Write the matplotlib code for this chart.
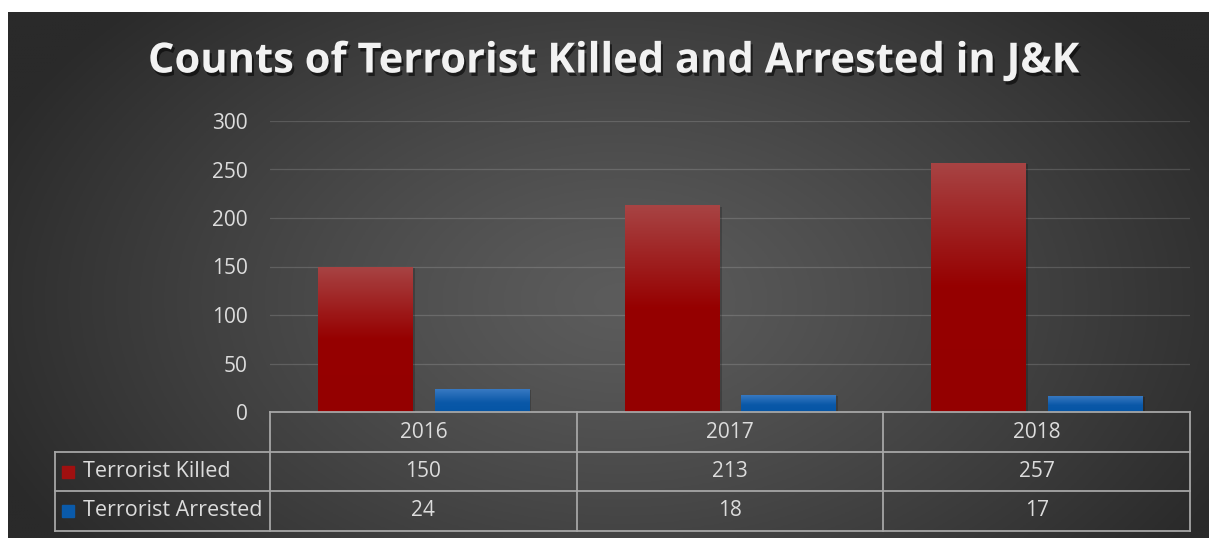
import numpy as np
import matplotlib
matplotlib.use("Agg")
import matplotlib.pyplot as plt
import matplotlib.patheffects as pe
from matplotlib.colors import LinearSegmentedColormap

years = ["2016", "2017", "2018"]
killed = [150, 213, 257]
arrested = [24, 18, 17]
series_names = ["Terrorist Killed", "Terrorist Arrested"]
y_ticks = [0, 50, 100, 150, 200, 250, 300]

W, H = 1209, 538
TEXT = "#dcdcdc"
GRID_LINE = "#a6a6a6"

plt.rcParams["font.family"] = ["Open Sans", "DejaVu Sans"]

fig = plt.figure(figsize=(W / 100, H / 100), dpi=100)
fig.patch.set_facecolor("white")

# dark panel with a soft radial glow in the middle
bg = fig.add_axes([8 / W, 0, 1 - 8 / W, (H - 12) / H], zorder=-10)
gx, gy = np.meshgrid(np.linspace(8, W, 400), np.linspace(12, H, 200))
r = np.sqrt(((gx - 620) / 680) ** 2 + ((gy - 300) / 430) ** 2)
shade = 0x5c - (0x5c - 0x2a) * np.clip(r, 0, 1) ** 1.2
shade = shade / 255.0
bg.imshow(np.dstack([shade, shade, shade]), extent=(8, W, H, 12), aspect="auto")
bg.set_axis_off()

# plot area
px_left, px_right, px_zero, px_top = 270, 1190, 412, 121
ax = fig.add_axes([px_left / W, (H - px_zero) / H,
                   (px_right - px_left) / W, (px_zero - px_top) / H])
ax.patch.set_alpha(0)

x = np.arange(len(years))
width = 0.307
off = 0.19

red_map = LinearSegmentedColormap.from_list(
    "red", [(0.0, "#a84444"), (0.5, "#960000"), (1.0, "#940000")])
blue_map = LinearSegmentedColormap.from_list(
    "blue", [(0.0, "#3c7cc4"), (0.6, "#0a58a8"), (1.0, "#0555a5")])

shadow = [pe.SimplePatchShadow(offset=(2, -1), shadow_rgbFace="black", alpha=0.2), pe.Normal()]
bars_k = ax.bar(x - off, killed, width, color="#960000", zorder=3, path_effects=shadow)
bars_a = ax.bar(x + off, arrested, width, color="#0555a5", zorder=3, path_effects=shadow)

# vertical gradient inside each bar, lighter at the top
grad = np.linspace(0, 1, 256).reshape(-1, 1)
for bars, cmap in ((bars_k, red_map), (bars_a, blue_map)):
    for b in bars:
        x0, h = b.get_x(), b.get_height()
        im = ax.imshow(grad, cmap=cmap, extent=(x0, x0 + b.get_width(), 0, h),
                       aspect="auto", zorder=4, origin="upper")
        im.set_clip_path(b)

ax.set_xlim(-0.5, len(years) - 0.5)
ax.set_ylim(0, 300)
ax.set_yticks(y_ticks)
ax.set_xticks([])
ax.tick_params(axis="y", length=0, pad=16, labelsize=15, labelcolor=TEXT)
ax.yaxis.grid(True, color="#ffffff", alpha=0.15, lw=0.9)
ax.set_axisbelow(True)
for s in ax.spines.values():
    s.set_visible(False)

# data table under the plot, drawn in pixel coordinates
tb = fig.add_axes([0, 0, 1, 1], zorder=5)
tb.set_xlim(0, W)
tb.set_ylim(H, 0)
tb.set_axis_off()
tb.patch.set_alpha(0)

row_y = [412, 452, 491, 531]
label_left = 55
col_w = (px_right - px_left) / len(years)
col_x = [px_left + i * col_w for i in range(len(years) + 1)]
lk = dict(color=GRID_LINE, lw=1.3)

# header row (years) only spans the data columns
tb.plot([px_left, px_right], [row_y[0], row_y[0]], **lk)
for yy in row_y[1:]:
    tb.plot([label_left, px_right], [yy, yy], **lk)
for xx in col_x:
    tb.plot([xx, xx], [row_y[0], row_y[-1]], **lk)
tb.plot([label_left, label_left], [row_y[1], row_y[-1]], **lk)

for i, yr in enumerate(years):
    cx = (col_x[i] + col_x[i + 1]) / 2
    tb.text(cx, (row_y[0] + row_y[1]) / 2, yr, ha="center", va="center",
            color=TEXT, fontsize=15)
    tb.text(cx, (row_y[1] + row_y[2]) / 2, str(killed[i]), ha="center",
            va="center", color=TEXT, fontsize=15)
    tb.text(cx, (row_y[2] + row_y[3]) / 2, str(arrested[i]), ha="center",
            va="center", color=TEXT, fontsize=15)

for j, (name, col) in enumerate(zip(series_names, ["#a01010", "#0a5aaa"])):
    cy = (row_y[j + 1] + row_y[j + 2]) / 2
    tb.add_patch(plt.Rectangle((62, cy - 6), 12, 12, color=col))
    tb.text(83, cy, name, ha="left", va="center", color=TEXT, fontsize=15.5)

fig.text(614 / W, 1 - 62 / H, "Counts of Terrorist Killed and Arrested in J&K",
         ha="center", va="center", color="#f2f2f2", fontsize=30,
         fontweight="bold",
         path_effects=[pe.withSimplePatchShadow(offset=(1.5, -2.5),
                                                 shadow_rgbFace="black",
                                                 alpha=0.55)])

fig.savefig("out.png", dpi=100, facecolor=fig.get_facecolor())
